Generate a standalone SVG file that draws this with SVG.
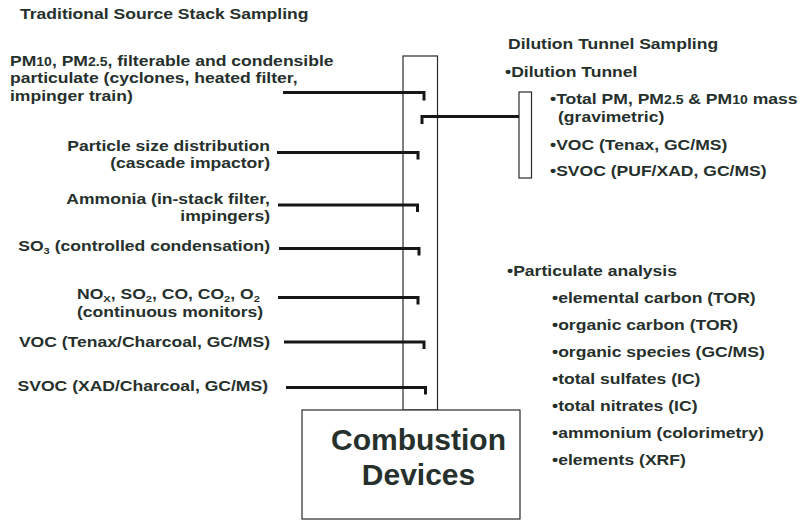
<svg xmlns="http://www.w3.org/2000/svg" width="809" height="520" viewBox="0 0 809 520">
<style>
text{font-family:"Liberation Sans",Arial,Helvetica,sans-serif;font-weight:bold;font-size:15px;fill:#26302c}
.e{text-anchor:end}
.s{font-size:12px}
.sub{font-size:9.5px}
.big{font-size:30px;text-anchor:middle}
.box{fill:#fff;stroke:#2a2a2a;stroke-width:1.2}
.con{fill:none;stroke:#161616;stroke-width:3}
</style>
<rect width="809" height="520" fill="#fff"/>
<g id="headings">
<text transform="matrix(1.17 0 0 1 20 19)">Traditional Source Stack Sampling</text>
<text transform="matrix(1.17 0 0 1 508 49)">Dilution Tunnel Sampling</text>
</g>
<g id="stack"><rect class="box" x="403" y="56" width="34.5" height="354"/></g>
<g id="combustion">
<rect class="box" x="302" y="410" width="218" height="109"/>
<text class="big" x="418.5" y="450">Combustion</text>
<text class="big" x="418.5" y="485">Devices</text>
</g>
<g id="tunnel"><rect class="box" x="519" y="92" width="12.5" height="86"/></g>
<g id="connectors">
<path class="con" d="M283 92.5H424V100.5"/>
<path class="con" d="M277 152.5H418V159.5"/>
<path class="con" d="M278 205H417.5V212"/>
<path class="con" d="M279 248.5H419V255.5"/>
<path class="con" d="M278 297.5H418V304.5"/>
<path class="con" d="M284 342H424V349"/>
<path class="con" d="M286 387.5H425.5V394.5"/>
<path class="con" d="M422 124V116.5H519"/>
</g>
<g id="pm">
<text transform="matrix(1.17 0 0 1 10 65.7)">PM<tspan class="s">10</tspan>, PM<tspan class="s">2.5</tspan>, filterable and condensible</text>
<text transform="matrix(1.17 0 0 1 10 83.2)">particulate (cyclones, heated filter,</text>
<text transform="matrix(1.17 0 0 1 10 100.7)">impinger train)</text>
</g>
<g id="particle-size">
<text class="e" transform="matrix(1.17 0 0 1 270 150.5)">Particle size distribution</text>
<text class="e" transform="matrix(1.17 0 0 1 270 168)">(cascade impactor)</text>
</g>
<g id="ammonia">
<text class="e" transform="matrix(1.17 0 0 1 270 203.5)">Ammonia (in-stack filter,</text>
<text class="e" transform="matrix(1.17 0 0 1 270 221)">impingers)</text>
</g>
<g id="so3">
<text class="e" transform="matrix(1.17 0 0 1 270 250.5)">SO<tspan class="sub" dy="3">3</tspan><tspan dy="-3"> (controlled condensation)</tspan></text>
</g>
<g id="gases">
<text transform="matrix(1.17 0 0 1 77 298.5)">NO<tspan class="sub" dy="3">X</tspan><tspan dy="-3">, SO</tspan><tspan class="sub" dy="3">2</tspan><tspan dy="-3">, CO, CO</tspan><tspan class="sub" dy="3">2</tspan><tspan dy="-3">, O</tspan><tspan class="sub" dy="3">2</tspan></text>
<text transform="matrix(1.17 0 0 1 77 316.5)">(continuous monitors)</text>
</g>
<g id="voc"><text class="e" transform="matrix(1.17 0 0 1 270 347)">VOC (Tenax/Charcoal, GC/MS)</text></g>
<g id="svoc"><text class="e" transform="matrix(1.17 0 0 1 268 391)">SVOC (XAD/Charcoal, GC/MS)</text></g>
<g id="dilution-list">
<text transform="matrix(1.17 0 0 1 505 77)">•Dilution Tunnel</text>
<text transform="matrix(1.17 0 0 1 550 104)">•Total PM, PM<tspan class="s">2.5</tspan> &amp; PM<tspan class="s">10</tspan> mass</text>
<text transform="matrix(1.17 0 0 1 558 121.5)">(gravimetric)</text>
<text transform="matrix(1.17 0 0 1 550 150)">•VOC (Tenax, GC/MS)</text>
<text transform="matrix(1.17 0 0 1 550 175.5)">•SVOC (PUF/XAD, GC/MS)</text>
</g>
<g id="particulate-analysis">
<text transform="matrix(1.17 0 0 1 507 276)">•Particulate analysis</text>
<text transform="matrix(1.17 0 0 1 552 303)">•elemental carbon (TOR)</text>
<text transform="matrix(1.17 0 0 1 552 330)">•organic carbon (TOR)</text>
<text transform="matrix(1.17 0 0 1 552 357)">•organic species (GC/MS)</text>
<text transform="matrix(1.17 0 0 1 552 384)">•total sulfates (IC)</text>
<text transform="matrix(1.17 0 0 1 552 411)">•total nitrates (IC)</text>
<text transform="matrix(1.17 0 0 1 552 438)">•ammonium (colorimetry)</text>
<text transform="matrix(1.17 0 0 1 552 465)">•elements (XRF)</text>
</g>
</svg>
